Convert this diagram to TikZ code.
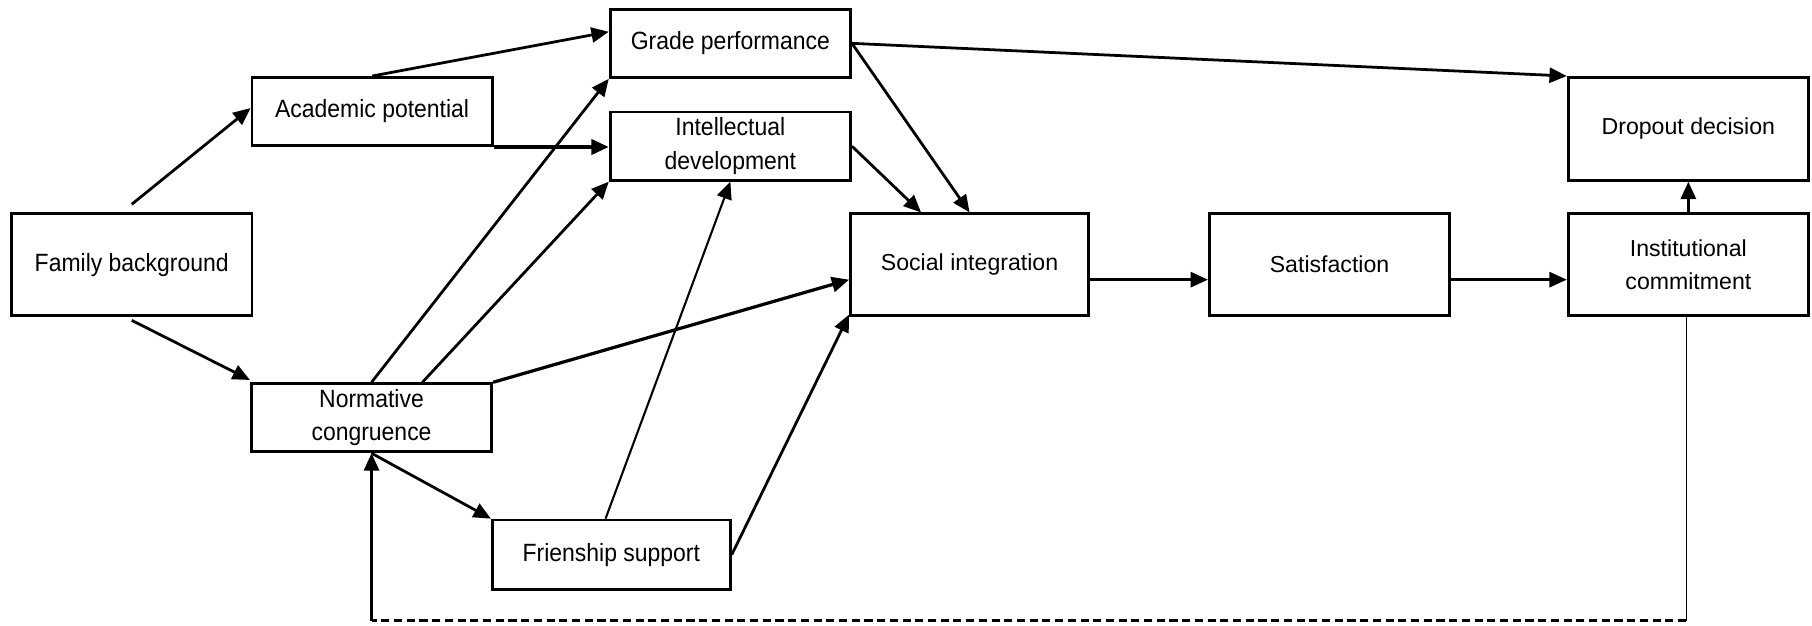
\documentclass[tikz,border=0pt]{standalone}
\usepackage{fontspec}
\setmainfont{Liberation Sans}
\newfontfamily\narrowfont[FakeStretch=0.92]{Liberation Sans}
\usetikzlibrary{arrows.meta,calc}

\tikzset{
  box/.style={draw,line width=1.2pt,inner sep=0pt,align=center,
    minimum width=104pt,font=\fontsize{10}{14.5}\selectfont},
  narrowbox/.style={box,font=\narrowfont\fontsize{10.8}{14.5}\selectfont},
  arr/.style={line width=1.2pt,-{Triangle[length=7.5pt,width=6.5pt]}},
}

\begin{document}
\begin{tikzpicture}[x=0.5pt,y=-0.5pt]
\useasboundingbox (0,0) rectangle (1568,541);
% boxes
\node(fam)[narrowbox,minimum height=44pt] at (114,229) {Family background};
\node(acad)[narrowbox,minimum height=29.5pt] at (322,96.5) {Academic potential};
\node(grade)[narrowbox,minimum height=29.5pt] at (632,37.5) {Grade performance};
\node(intel)[narrowbox,minimum height=29.5pt] at (632,126.5) {Intellectual\\development};
\node(norm)[narrowbox,minimum height=29.5pt] at (321.5,361.5) {Normative\\congruence};
\node(friend)[narrowbox,minimum height=30pt,minimum width=103pt] at (529,480) {Frienship support};
\node(social)[box,minimum height=44pt,minimum width=103pt] at (839,229) {Social integration};
\node(satis)[box,minimum height=44pt] at (1150.5,229) {Satisfaction};
\node(drop)[box,minimum height=44.5pt] at (1461,111.5) {Dropout decision};
\node(inst)[box,minimum height=44pt] at (1461,229) {Institutional\\commitment};
% arrows
\draw[arr] ([yshift=3.5pt]fam.north) -- ([yshift=1.5pt]acad.west);
\draw[arr] ([yshift=-1.5pt]fam.south) -- ([yshift=1pt]norm.north west);
\draw[arr] (acad.north) -- ([yshift=5pt]grade.west);
\draw[arr,line width=1.6pt] (acad.south east) -- (intel.west |- acad.south east);
\draw[arr] (grade.east) -- (drop.north west);
\draw[arr] (grade.east) -- (social.north);
\draw[arr] (intel.east) -- ([xshift=-21pt]social.north);
\draw[arr] (norm.north) -- (grade.south west);
\draw[arr] ([xshift=22pt]norm.north) -- (intel.south west);
\draw[arr,line width=1.4pt] (norm.north east) -- ([yshift=-6.5pt]social.west);
\draw[arr] (norm.south) -- (friend.north west);
\draw[arr,line width=0.9pt] ([xshift=-2.5pt]friend.north) -- (intel.south);
\draw[arr] (friend.east) -- ([yshift=1pt]social.south west);
\draw[arr] ([yshift=-6.5pt]social.east) -- ([yshift=-6.5pt]satis.west);
\draw[arr] ([yshift=-6.5pt]satis.east) -- ([yshift=-6.5pt]inst.west);
\draw[arr] (inst.north) -- (drop.south);
% feedback loop
\coordinate (backR) at ([xshift=-1pt]inst.south |- 0,537);
\coordinate (backL) at (norm.south |- backR);
\draw[line width=0.45pt] ([xshift=-1pt]inst.south) -- (backR);
\draw[line width=1.2pt,dash pattern=on 3.5pt off 2pt] (backR) -- (backL);
\draw[arr] (backL) -- (norm.south);
\end{tikzpicture}
\end{document}
